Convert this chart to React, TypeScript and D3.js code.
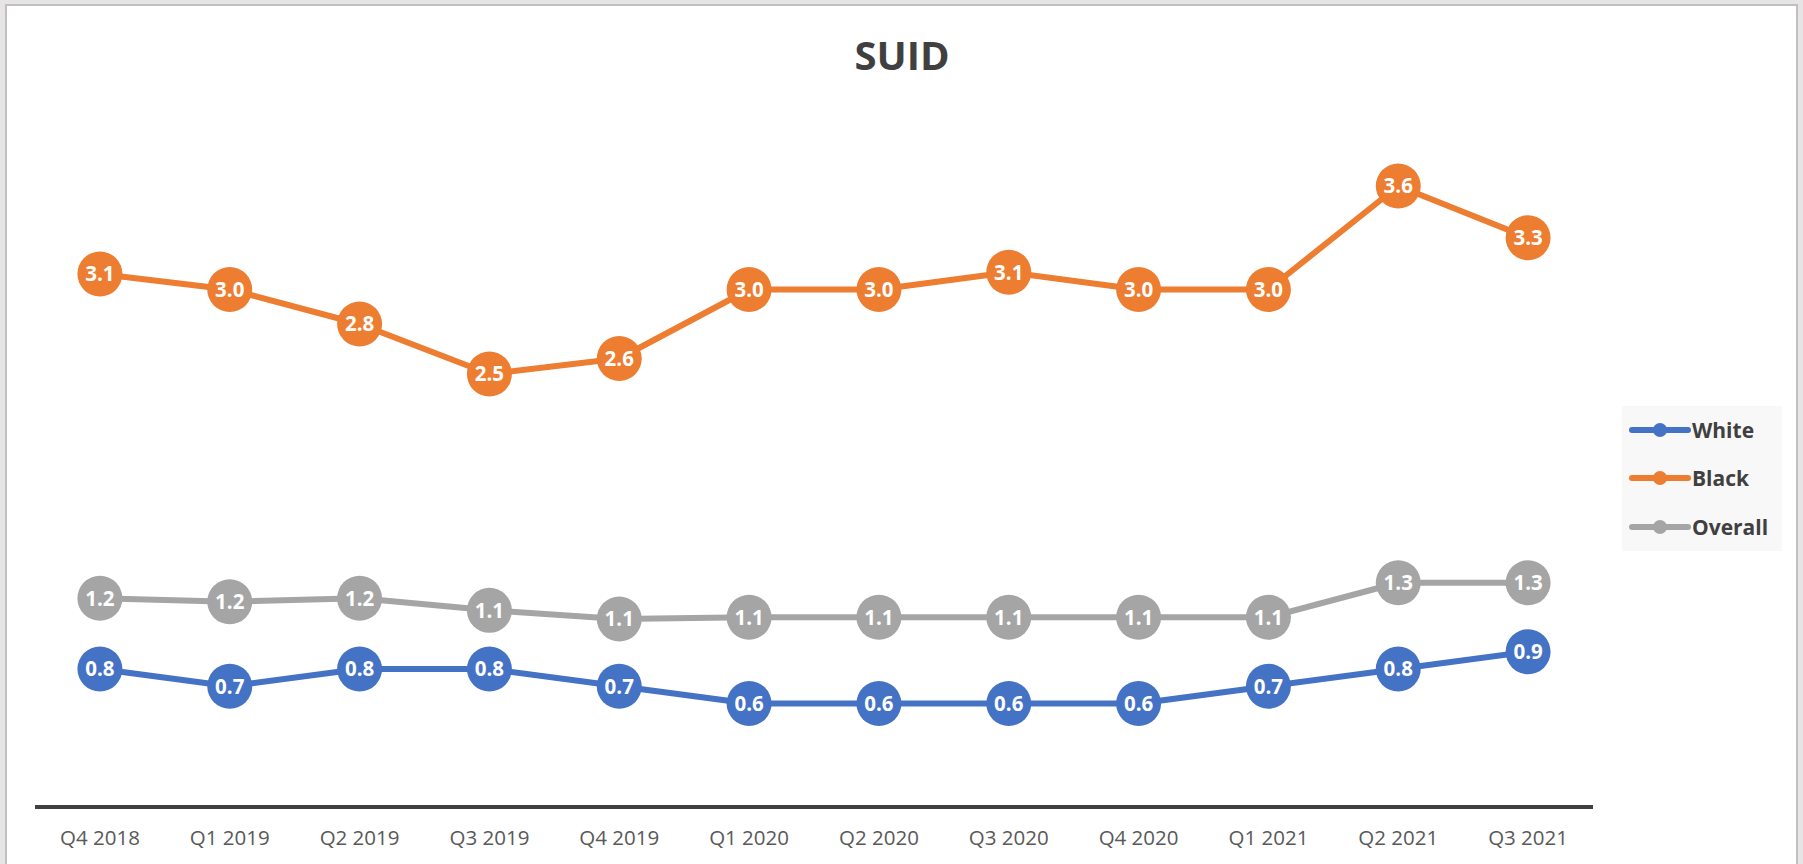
import React from "react";
import * as d3 from "d3";

const categories = ["Q4 2018", "Q1 2019", "Q2 2019", "Q3 2019", "Q4 2019", "Q1 2020", "Q2 2020", "Q3 2020", "Q4 2020", "Q1 2021", "Q2 2021", "Q3 2021"];
const whiteValues = [0.8, 0.7, 0.8, 0.8, 0.7, 0.6, 0.6, 0.6, 0.6, 0.7, 0.8, 0.9];
const blackValues = [3.09, 3.0, 2.8, 2.51, 2.6, 3.0, 3.0, 3.1, 3.0, 3.0, 3.6, 3.3];
const overallValues = [1.21, 1.19, 1.21, 1.14, 1.09, 1.1, 1.1, 1.1, 1.1, 1.1, 1.3, 1.3];
const seriesNames = ["White", "Black", "Overall"];
const seriesColors = ["#4472C4", "#ED7D31", "#A5A5A5"];
const title = "SUID";

const W = 1803;
const H = 864;
const FONT = "'Open Sans', 'Noto Sans', sans-serif";

export default function App() {
  const x = d3.scaleBand<string>().domain(categories).range([35, 1593]);
  const y = d3.scaleLinear().domain([0, 4]).range([807, 117]);
  const cx = (c: string) => (x(c) as number) + x.bandwidth() / 2;
  const allSeries = [whiteValues, blackValues, overallValues];
  const line = d3
    .line<number>()
    .x((_, i) => cx(categories[i]))
    .y((v) => y(v));
  const fmt = d3.format(".1f");
  const legendY = [430, 478, 527];

  return (
    <svg
      width={W}
      height={H}
      style={{ position: "absolute", left: 0, top: 0, display: "block" }}
      fontFamily={FONT}
    >
      <rect x={0} y={0} width={W} height={H} fill="#e6e4e4" />
      <rect x={6} y={5} width={1791} height={H + 10} fill="#ffffff" stroke="#c0c0c0" strokeWidth={2} />
      <text x={902} y={70} textAnchor="middle" fontSize={40} fontWeight={700} fill="#404040">
        {title}
      </text>
      <line x1={35} x2={1593} y1={y(0)} y2={y(0)} stroke="#404040" strokeWidth={4} />
      {categories.map((c) => (
        <text key={c} x={cx(c)} y={845} textAnchor="middle" fontSize={20.5} fill="#595959">
          {c}
        </text>
      ))}
      {allSeries.map((vals, s) => (
        <path key={"l" + s} d={line(vals) || ""} fill="none" stroke={seriesColors[s]} strokeWidth={6} strokeLinejoin="round" />
      ))}
      {allSeries.map((vals, s) => (
        <g key={"m" + s}>
          {vals.map((v, i) => (
            <g key={i}>
              <circle cx={cx(categories[i])} cy={y(v)} r={22.5} fill={seriesColors[s]} />
              <text
                x={cx(categories[i])}
                y={y(v)}
                dy="0.36em"
                textAnchor="middle"
                fontSize={20.5}
                fontWeight={700}
                fill="#ffffff"
              >
                {fmt(v)}
              </text>
            </g>
          ))}
        </g>
      ))}
      <rect x={1622} y={406} width={160} height={145} fill="#f8f8f8" />
      {seriesNames.map((n, s) => (
        <g key={n}>
          <line x1={1632} x2={1688} y1={legendY[s]} y2={legendY[s]} stroke={seriesColors[s]} strokeWidth={6} strokeLinecap="round" />
          <circle cx={1660} cy={legendY[s]} r={7} fill={seriesColors[s]} />
          <text x={1692} y={legendY[s]} dy="0.36em" fontSize={21} fontWeight={700} fill="#404040">
            {n}
          </text>
        </g>
      ))}
    </svg>
  );
}
